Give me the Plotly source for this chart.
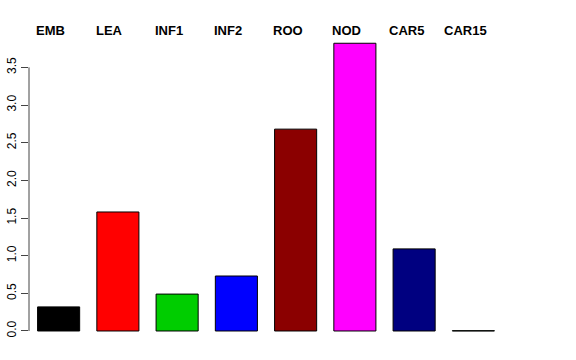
import plotly.graph_objects as go

categories = ["EMB", "LEA", "INF1", "INF2", "ROO", "NOD", "CAR5", "CAR15"]
values = [0.32, 1.58, 0.49, 0.73, 2.68, 3.82, 1.09, 0.004]
colors = ["#000000", "#FF0000", "#00CD00", "#0000FF", "#8B0000", "#FF00FF", "#000080", "#006400"]
ytick_vals = [0.0, 0.5, 1.0, 1.5, 2.0, 2.5, 3.0, 3.5]
ytick_text = ["0.0", "0.5", "1.0", "1.5", "2.0", "2.5", "3.0", "3.5"]

FONT = "Liberation Sans, Arial, Helvetica, sans-serif"

fig = go.Figure(go.Bar(
    x=categories, y=values,
    marker=dict(color=colors, line=dict(color="black", width=1)),
    showlegend=False,
))

annotations = [
    dict(x=c, y=1, xref="x", yref="paper", text=f"<b>{c}</b>", showarrow=False,
         yanchor="middle", yshift=11, xshift=-8,
         font=dict(family=FONT, size=13, color="black"))
    for c in categories
]

fig.update_layout(
    width=576, height=360,
    margin=dict(l=29, r=73, t=41, b=26, autoexpand=False),
    paper_bgcolor="white", plot_bgcolor="white",
    bargap=0.29,
    font=dict(family=FONT, size=12, color="black"),
    xaxis=dict(showticklabels=False, showline=False, ticks="", showgrid=False,
               zeroline=False, range=[-0.5, 7.5], automargin=False),
    yaxis=dict(range=[-0.04, 3.85], tickvals=ytick_vals, ticktext=ytick_text,
               tickangle=-90, ticks="outside", ticklen=7, tickcolor="#444",
               tickwidth=1, showline=False, showgrid=False, zeroline=False,
               automargin=False,
               tickfont=dict(family=FONT, size=12, color="black")),
    shapes=[dict(type="line", xref="paper", yref="y", x0=0, x1=0, y0=0, y1=3.5,
                 line=dict(color="#444", width=1))],
    annotations=annotations,
)

fig.write_html("out.html", config={"displayModeBar": False},
               post_script="document.body.style.margin='0';document.body.style.overflow='hidden';")
